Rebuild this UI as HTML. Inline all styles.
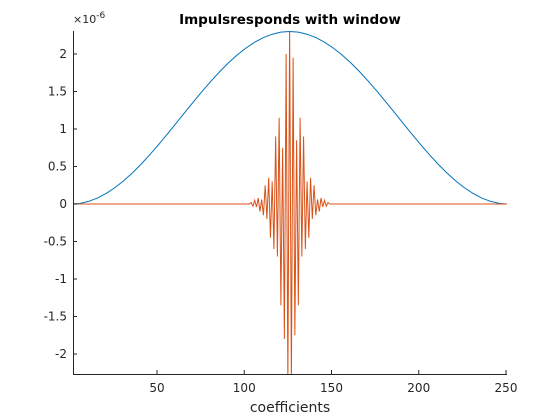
<!DOCTYPE html>
<html><head><meta charset="utf-8"><style>
body{margin:0;background:#fff}
svg{display:block;font-family:"DejaVu Sans","Liberation Sans",sans-serif}
</style></head><body>
<svg id="chart" width="560" height="420">
<rect width="560" height="420" fill="#fff"/>
<defs><clipPath id="clip"><rect x="73" y="31" width="434" height="343"/></clipPath></defs>
<g id="plot" clip-path="url(#clip)"></g>
<g id="axes"></g>
<text x="290" y="24" text-anchor="middle" font-weight="bold" font-size="13.5" fill="#000">Impulsresponds with window</text>
<text x="290" y="412" text-anchor="middle" font-size="14" fill="#262626">coefficients</text>
<text x="73" y="23" font-size="11" fill="#262626">×10<tspan dy="-5" font-size="9">-6</tspan></text>
</svg>
<script>
const xTicks=[50,100,150,200,250];
const yTicks=[-2,-1.5,-1,-0.5,0,0.5,1,1.5,2];
const yTickLabels=["-2","-1.5","-1","-0.5","0","0.5","1","1.5","2"];
const windowX=[1,6,11,16,21,26,31,36,41,46,51,56,61,66,71,76,81,86,91,96,101,106,111,116,121,126,131,136,141,146,151,156,161,166,171,176,181,186,191,196,201,206,211,216,221,226,231,236,241,246,251];
const windowY=[0,0.0091,0.0361,0.0807,0.1422,0.2196,0.3117,0.4170,0.5338,0.6604,0.7946,0.9345,1.0778,1.2222,1.3655,1.5054,1.6396,1.7662,1.8830,1.9883,2.0804,2.1578,2.2192,2.2639,2.2909,2.3,2.2909,2.2639,2.2192,2.1578,2.0804,1.9883,1.8830,1.7662,1.6396,1.5054,1.3655,1.2222,1.0778,0.9345,0.7946,0.6604,0.5338,0.4170,0.3117,0.2196,0.1422,0.0807,0.0361,0.0091,0];
const impStart=104;
const impY=[0.02,-0.03,0.05,-0.04,0.08,-0.10,0.06,-0.15,0.25,-0.20,0.35,-0.45,0.30,-0.60,0.90,-0.70,1.15,-1.35,0.75,-1.80,2.00,-2.40,2.40,-2.40,1.95,-1.75,0.85,-1.35,1.15,-0.70,0.90,-0.60,0.30,-0.45,0.35,-0.20,0.25,-0.15,0.06,-0.10,0.08,-0.04,0.05,-0.03,0.02];
const NS='http://www.w3.org/2000/svg';
function xs(v){return 157+(v-50)*1.745;}
function ys(v){return 204-v*75;}
const plot=document.getElementById('plot'),axes=document.getElementById('axes');
function mk(tag,attrs,parent){const e=document.createElementNS(NS,tag);for(const k in attrs)e.setAttribute(k,attrs[k]);parent.appendChild(e);return e;}
let d=windowX.map((x,i)=>(i?'L':'M')+xs(x).toFixed(2)+','+ys(windowY[i]).toFixed(2)).join('');
const wl=mk('path',{d:d,fill:'none',stroke:'#0072bd','stroke-width':1},plot);


let pts=[[1,0],[impStart-1,0]];
for(let i=0;i<impY.length;i++)pts.push([impStart+i,impY[i]]);
pts.push([impStart+impY.length,0]);
pts.push([251,0]);
d=pts.map((p,i)=>(i?'L':'M')+xs(p[0]).toFixed(2)+','+ys(p[1]).toFixed(2)).join('');
const il=mk('path',{d:d,fill:'none',stroke:'#d95319','stroke-width':1},plot);


const xa=mk('line',{x1:73,y1:374.5,x2:507,y2:374.5,stroke:'#262626','stroke-width':1},axes);


const ya=mk('line',{x1:73.5,y1:31,x2:73.5,y2:375,stroke:'#262626','stroke-width':1},axes);


xTicks.forEach(v=>{const x=xs(v);
 mk('line',{x1:x,y1:374,x2:x,y2:370,stroke:'#262626'},axes);
 const t=mk('text',{x:x,y:392,'text-anchor':'middle','font-size':12,fill:'#262626'},axes);t.textContent=v;
 
 });
yTicks.forEach((v,i)=>{const y=ys(v);
 mk('line',{x1:73,y1:y,x2:77,y2:y,stroke:'#262626'},axes);
 const t=mk('text',{x:67,y:y+4,'text-anchor':'end','font-size':12,fill:'#262626'},axes);t.textContent=yTickLabels[i];
 
 });
</script>
</body></html>
